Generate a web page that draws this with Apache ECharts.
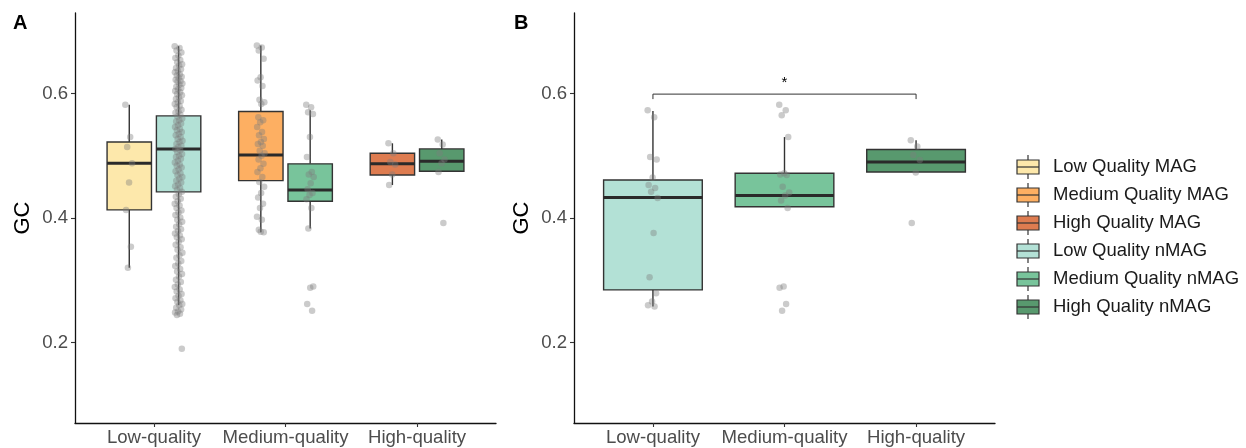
<!DOCTYPE html>
<html>
<head>
<meta charset="utf-8">
<script src="https://cdn.jsdelivr.net/npm/echarts@6/dist/echarts.min.js"></script>
<style>
  html, body { margin: 0; padding: 0; background: #ffffff; }
  #chart { width: 1246px; height: 448px; }
</style>
</head>
<body>
<div id="chart"></div>
<script>
// ---- Axis categories and ticks ----
const categories = ['Low-quality', 'Medium-quality', 'High-quality'];
const yTicks = [0.2, 0.4, 0.6];
const yRange = [0.0707, 0.7293];

// ---- Groups (legend order) ----
const groupNames = [
  'Low Quality MAG', 'Medium Quality MAG', 'High Quality MAG',
  'Low Quality nMAG', 'Medium Quality nMAG', 'High Quality nMAG'
];
const groupColors = ['#fde8ab', '#fdaf62', '#de7c50', '#b3e1d6', '#78c49b', '#58996e'];

// ---- Panel A box statistics: [lower whisker, Q1, median, Q3, upper whisker] ----
const boxA_LowMAG    = [0.320, 0.413, 0.488, 0.522, 0.582];
const boxA_MediumMAG = [0.377, 0.460, 0.501, 0.571, 0.677];
const boxA_HighMAG   = [0.453, 0.469, 0.487, 0.504, 0.520];
const boxA_LowNMAG   = [0.260, 0.442, 0.511, 0.564, 0.676];
const boxA_MediumNMAG= [0.383, 0.427, 0.445, 0.487, 0.573];
const boxA_HighNMAG  = [0.475, 0.475, 0.491, 0.511, 0.526];

// ---- Panel B box statistics ----
const boxB_LowNMAG   = [0.258, 0.2845, 0.433, 0.461, 0.572];
const boxB_MediumNMAG= [0.418, 0.418, 0.436, 0.472, 0.530];
const boxB_HighNMAG  = [0.474, 0.474, 0.490, 0.510, 0.525];

// ---- GC values of individual genomes, panel A ----
const gcA_LowMAG = [0.582, 0.530, 0.514, 0.488, 0.457, 0.413, 0.354, 0.320];
const gcA_MediumMAG = [
  0.677, 0.674, 0.669, 0.656, 0.626, 0.621, 0.612, 0.590, 0.586, 0.583, 0.562, 0.557,
  0.554, 0.546, 0.538, 0.533, 0.527, 0.522, 0.519, 0.516, 0.508, 0.504, 0.500, 0.494,
  0.487, 0.480, 0.474, 0.466, 0.458, 0.450, 0.440, 0.433, 0.423, 0.416, 0.402, 0.397,
  0.381, 0.377, 0.378
];
const gcA_HighMAG = [0.520, 0.504, 0.490, 0.486, 0.470, 0.453];
const gcA_LowNMAG = [
  0.676, 0.673, 0.669, 0.666, 0.661, 0.657, 0.654, 0.650, 0.647, 0.645, 0.641, 0.639,
  0.636, 0.634, 0.631, 0.629, 0.627, 0.625, 0.622, 0.620, 0.619, 0.616, 0.614, 0.611,
  0.609, 0.607, 0.604, 0.602, 0.599, 0.597, 0.594, 0.591, 0.588, 0.586, 0.583, 0.580,
  0.578, 0.574, 0.571, 0.569, 0.566, 0.563, 0.560, 0.557, 0.555, 0.552, 0.549, 0.546,
  0.543, 0.541, 0.538, 0.535, 0.533, 0.530, 0.527, 0.524, 0.522, 0.519, 0.516, 0.514,
  0.511, 0.509, 0.506, 0.503, 0.500, 0.498, 0.495, 0.492, 0.489, 0.486, 0.484, 0.481,
  0.478, 0.475, 0.472, 0.469, 0.466, 0.463, 0.460, 0.457, 0.454, 0.451, 0.448, 0.445,
  0.442, 0.438, 0.434, 0.431, 0.427, 0.423, 0.420, 0.416, 0.412, 0.409, 0.405, 0.401,
  0.397, 0.394, 0.390, 0.386, 0.382, 0.379, 0.375, 0.372, 0.369, 0.366, 0.362, 0.357,
  0.353, 0.349, 0.344, 0.340, 0.336, 0.331, 0.327, 0.323, 0.318, 0.314, 0.310, 0.306,
  0.301, 0.297, 0.293, 0.289, 0.285, 0.282, 0.278, 0.275, 0.271, 0.268, 0.265, 0.262,
  0.260, 0.256, 0.253, 0.250, 0.248, 0.246, 0.244, 0.190
];
const gcA_MediumNMAG = [
  0.582, 0.578, 0.570, 0.567, 0.530, 0.498, 0.474, 0.470, 0.466, 0.456, 0.446, 0.440,
  0.437, 0.430, 0.416, 0.383, 0.290, 0.288, 0.262, 0.251
];
const gcA_HighNMAG = [0.526, 0.518, 0.504, 0.494, 0.488, 0.474, 0.392];

// ---- GC values of individual genomes, panel B ----
const gcB_LowNMAG = [
  0.573, 0.562, 0.498, 0.494, 0.465, 0.453, 0.448, 0.442, 0.432, 0.376, 0.305,
  0.279, 0.266, 0.260, 0.258
];
const gcB_MediumNMAG = [
  0.582, 0.573, 0.565, 0.530, 0.472, 0.470, 0.469, 0.450, 0.441, 0.436, 0.428,
  0.416, 0.290, 0.288, 0.262, 0.251
];
const gcB_HighNMAG = [0.525, 0.515, 0.501, 0.493, 0.473, 0.392];

// ---- Significance bracket (panel B): categories compared, bracket level, label ----
const sigPair = [1, 3];
const sigLevel = [0.599, 0.591];
const sigLabel = '*';

// Panel A: [group index, category (1-based), dodge side, box stats, values]
const panelA = [
  [0, 1, -1, boxA_LowMAG, gcA_LowMAG],
  [3, 1, 1, boxA_LowNMAG, gcA_LowNMAG],
  [1, 2, -1, boxA_MediumMAG, gcA_MediumMAG],
  [4, 2, 1, boxA_MediumNMAG, gcA_MediumNMAG],
  [2, 3, -1, boxA_HighMAG, gcA_HighMAG],
  [5, 3, 1, boxA_HighNMAG, gcA_HighNMAG]
];
const panelB = [
  [3, 1, 0, boxB_LowNMAG, gcB_LowNMAG],
  [4, 2, 0, boxB_MediumNMAG, gcB_MediumNMAG],
  [5, 3, 0, boxB_HighNMAG, gcB_HighNMAG]
];

const FONT = '"Liberation Sans", Arial, Helvetica, sans-serif';
const LINE = '#333333';

function makeGrid(left) {
  return { left: left, top: 13, width: 421, height: 410, outerBoundsMode: 'none' };
}

function makeXAxis(gridIndex) {
  return {
    type: 'value', gridIndex: gridIndex, min: 0.4, max: 3.6,
    axisLine: { show: true, onZero: false, lineStyle: { color: '#111', width: 1.3 } },
    axisTick: { show: true, customValues: [1, 2, 3], length: 4, lineStyle: { color: LINE, width: 1.1 } },
    axisLabel: {
      customValues: [1, 2, 3], margin: 5, color: '#4d4d4d', fontSize: 18.6, fontFamily: FONT,
      formatter: v => categories[Math.round(v) - 1]
    },
    splitLine: { show: false }
  };
}

function makeYAxis(gridIndex) {
  return {
    type: 'value', gridIndex: gridIndex, min: yRange[0], max: yRange[1],
    name: 'GC', nameLocation: 'middle', nameGap: 41, nameRotate: 90,
    nameTextStyle: { color: '#000', fontSize: 22, fontFamily: FONT },
    axisLine: { show: true, lineStyle: { color: '#111', width: 1.3 } },
    axisTick: { show: true, customValues: yTicks, length: 4, lineStyle: { color: LINE, width: 1.1 } },
    axisLabel: {
      customValues: yTicks, margin: 7, color: '#4d4d4d', fontSize: 18.6, fontFamily: FONT,
      formatter: v => v.toFixed(1)
    },
    splitLine: { show: false }
  };
}

function boxSeries(axisIndex, group, cat, side, stats, halfWidth, offset) {
  const color = groupColors[group];
  return {
    type: 'custom', name: groupNames[group],
    xAxisIndex: axisIndex, yAxisIndex: axisIndex, z: 2, silent: true,
    data: [[cat + side * offset].concat(stats)],
    encode: { x: 0, y: [1, 2, 3, 4, 5] },
    renderItem: function (params, api) {
      const x = api.value(0);
      const lo = api.value(1), q1 = api.value(2), med = api.value(3), q3 = api.value(4), hi = api.value(5);
      const tl = api.coord([x - halfWidth, q3]);
      const br = api.coord([x + halfWidth, q1]);
      const pHi = api.coord([x, hi]);
      const pLo = api.coord([x, lo]);
      const pMed = api.coord([x, med]);
      const cx = pMed[0];
      return {
        type: 'group',
        children: [
          { type: 'line', shape: { x1: cx, y1: pHi[1], x2: cx, y2: tl[1] }, style: { stroke: LINE, lineWidth: 1.4 } },
          { type: 'line', shape: { x1: cx, y1: br[1], x2: cx, y2: pLo[1] }, style: { stroke: LINE, lineWidth: 1.4 } },
          { type: 'rect', shape: { x: tl[0], y: tl[1], width: br[0] - tl[0], height: br[1] - tl[1] },
            style: { fill: color, stroke: LINE, lineWidth: 1.4 } },
          { type: 'line', shape: { x1: tl[0], y1: pMed[1], x2: br[0], y2: pMed[1] }, style: { stroke: '#2a2a2a', lineWidth: 3 } }
        ]
      };
    }
  };
}

// Deterministic horizontal spread so overlapping genomes stay visible
function spread(i, width) {
  const f = (i * 0.6180339887) % 1;
  return (f - 0.5) * 2 * width;
}

function pointSeries(axisIndex, cat, side, values, offset, width) {
  const cx = cat + side * offset;
  return {
    type: 'scatter', xAxisIndex: axisIndex, yAxisIndex: axisIndex, z: 5, silent: true,
    symbol: 'circle', symbolSize: 6.5,
    itemStyle: { color: 'rgba(125,125,125,0.5)' },
    data: values.map((v, i) => [cx + spread(i, width), v])
  };
}

const series = [];
panelA.forEach(([g, cat, side, stats, vals]) => {
  series.push(boxSeries(0, g, cat, side, stats, 0.16875, 0.1875));
});
panelB.forEach(([g, cat, side, stats, vals]) => {
  series.push(boxSeries(1, g, cat, side, stats, 0.375, 0));
});
panelA.forEach(([g, cat, side, stats, vals]) => {
  series.push(pointSeries(0, cat, side, vals, 0.1875, 0.03));
});
panelB.forEach(([g, cat, side, stats, vals]) => {
  series.push(pointSeries(1, cat, side, vals, 0, 0.04));
});

// Significance bracket between the compared categories in panel B
series.push({
  type: 'custom', xAxisIndex: 1, yAxisIndex: 1, z: 6, silent: true,
  data: [[sigPair[0], sigPair[1], sigLevel[0], sigLevel[1]]],
  encode: { x: [0, 1], y: [2, 3] },
  renderItem: function (params, api) {
    const a = api.coord([api.value(0), api.value(2)]);
    const b = api.coord([api.value(1), api.value(2)]);
    const aLow = api.coord([api.value(0), api.value(3)]);
    const bLow = api.coord([api.value(1), api.value(3)]);
    return {
      type: 'group',
      children: [
        { type: 'polyline', shape: { points: [aLow, a, b, bLow] }, style: { stroke: '#333', lineWidth: 1, fill: null } },
        { type: 'text', style: { text: sigLabel, x: (a[0] + b[0]) / 2, y: a[1] - 11, align: 'center', verticalAlign: 'middle',
            fontSize: 15, fontFamily: FONT, fill: '#000' } }
      ]
    };
  }
});

// Legend drawn as boxplot keys
const legendTop = 167;
const legendStep = 28;
const legendItems = groupNames.map((name, i) => {
  const cy = legendTop + i * legendStep;
  return {
    type: 'group',
    children: [
      { type: 'line', shape: { x1: 1028, y1: cy - 12, x2: 1028, y2: cy + 12 }, style: { stroke: LINE, lineWidth: 1.2 } },
      { type: 'rect', shape: { x: 1017, y: cy - 7, width: 22, height: 14 }, style: { fill: groupColors[i], stroke: LINE, lineWidth: 1.2 } },
      { type: 'line', shape: { x1: 1017, y1: cy, x2: 1039, y2: cy }, style: { stroke: LINE, lineWidth: 1.2 } },
      { type: 'text', style: { text: name, x: 1053, y: cy, verticalAlign: 'middle', fontSize: 18.5, fontFamily: FONT, fill: '#1a1a1a' } }
    ]
  };
});

const option = {
  animation: false,
  backgroundColor: '#ffffff',
  grid: [makeGrid(75), makeGrid(574)],
  xAxis: [makeXAxis(0), makeXAxis(1)],
  yAxis: [makeYAxis(0), makeYAxis(1)],
  series: series,
  graphic: [
    { type: 'text', style: { text: 'A', x: 13, y: 13, fontSize: 20, fontWeight: 'bold', fontFamily: FONT, fill: '#000' } },
    { type: 'text', style: { text: 'B', x: 514, y: 13, fontSize: 20, fontWeight: 'bold', fontFamily: FONT, fill: '#000' } }
  ].concat(legendItems)
};

const chart = echarts.init(document.getElementById('chart'), null, { renderer: 'canvas' });
chart.setOption(option);
</script>
</body>
</html>
